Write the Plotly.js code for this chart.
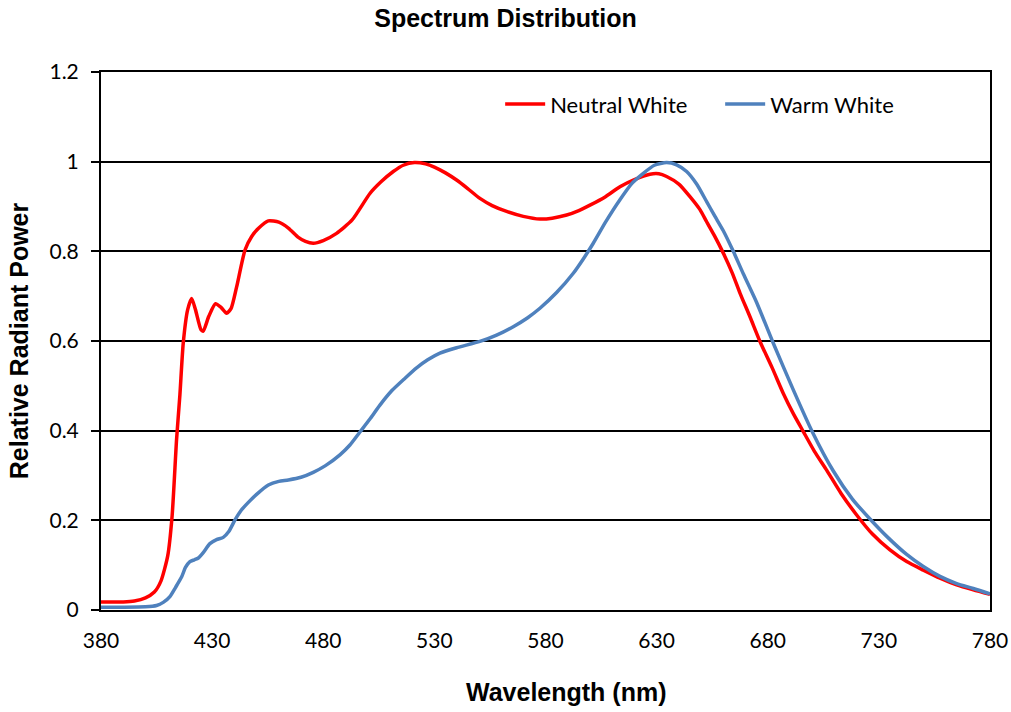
<!DOCTYPE html>
<html>
<head>
<meta charset="utf-8">
<script src="https://cdn.plot.ly/plotly-3.0.1.min.js"></script>
<style>html,body{margin:0;padding:0;background:#fff;}#chart{width:1011px;height:712px;}</style>
</head>
<body>
<div id="chart"></div>
<script>
// Wavelength samples (nm) and relative radiant power
const wavelengthNeutral = [380,390,395,400,404,407,410,412,414,415.5,417,419,420.8,422.5,425,426,428.5,431.5,434,436.5,438.5,441,444.8,447.8,451,455.3,460,464.3,468.8,472,475.5,480,486,493,501,506,511.5,516,521,526,530,535,540,545,550.5,556,562.5,570,577.5,583,589.5,595,600,607,613.5,620,627,631,634.5,640,645,649.5,652.5,656,660,664,667.5,672,676.5,682,687,691.5,696,701,706.5,713,720,727,735,742.5,750,757.5,765,772.5,780];
const neutralWhite = [0.018,0.018,0.020,0.027,0.040,0.065,0.12,0.21,0.38,0.48,0.595,0.67,0.695,0.67,0.625,0.622,0.655,0.683,0.675,0.662,0.672,0.72,0.803,0.833,0.852,0.868,0.865,0.852,0.831,0.822,0.818,0.824,0.840,0.870,0.929,0.955,0.978,0.992,0.998,0.995,0.988,0.975,0.959,0.940,0.918,0.902,0.889,0.878,0.872,0.874,0.881,0.891,0.903,0.922,0.944,0.960,0.972,0.973,0.967,0.950,0.922,0.893,0.866,0.835,0.796,0.752,0.707,0.654,0.599,0.54,0.483,0.438,0.398,0.354,0.312,0.26,0.212,0.170,0.134,0.108,0.089,0.071,0.056,0.045,0.035];

const wavelengthWarm = [380,390,400,405,408,411,413.5,416.3,418,420,422,423.8,426,429,432,435,437.5,440.3,443,446.3,450,455.3,460,464.3,470,475.5,481,487.5,492,496.5,501,505.5,511,516.8,522,527,532.5,540,550.5,558,565.5,572,577.5,585,592.5,597,601.5,607,613.5,619,624,629,634.5,639,643.5,648,652.5,656,660,664.5,669,675,682.5,691.5,699.8,709.5,718,726,734,742.5,750,757.5,765,772.5,780];
const warmWhite = [0.006,0.006,0.007,0.010,0.017,0.030,0.050,0.074,0.095,0.108,0.112,0.116,0.128,0.148,0.157,0.162,0.175,0.201,0.222,0.240,0.258,0.279,0.287,0.290,0.296,0.307,0.322,0.346,0.368,0.397,0.426,0.457,0.490,0.517,0.540,0.558,0.573,0.585,0.599,0.613,0.632,0.652,0.673,0.708,0.751,0.783,0.818,0.865,0.915,0.952,0.974,0.992,0.998,0.993,0.978,0.950,0.911,0.880,0.846,0.800,0.750,0.686,0.595,0.491,0.400,0.310,0.248,0.203,0.162,0.124,0.097,0.075,0.059,0.048,0.036];

const seriesNames = ["Neutral White", "Warm White"];
const xTicks = [380,430,480,530,580,630,680,730,780];
const yTicks = [0,0.2,0.4,0.6,0.8,1,1.2];

const traces = [
  {x: wavelengthNeutral, y: neutralWhite, name: seriesNames[0], type: 'scatter', mode: 'lines',
   line: {color: '#FF0000', width: 3.5, shape: 'spline', smoothing: 0.6}},
  {x: wavelengthWarm, y: warmWhite, name: seriesNames[1], type: 'scatter', mode: 'lines',
   line: {color: '#4F81BD', width: 3.5, shape: 'spline', smoothing: 0.6}}
];

const tickFont = {family: 'Lato, "Liberation Sans", sans-serif', size: 21, color: '#000'};
const titleFont = {family: '"Liberation Sans", Arial, sans-serif', size: 25, color: '#000', weight: 'bold'};

const layout = {
  width: 1011, height: 712,
  margin: {l: 101, r: 21, t: 72, b: 102, autoexpand: false},
  paper_bgcolor: '#fff', plot_bgcolor: '#fff',
  showlegend: true,
  title: {text: 'Spectrum Distribution', font: titleFont,
          x: 0.5, xref: 'container', y: 0.974, yref: 'container', yanchor: 'middle'},
  xaxis: {range: [380, 780], tickvals: xTicks, ticktext: xTicks.map(String),
          showgrid: false, zeroline: false, showline: true, linecolor: '#000', linewidth: 2, mirror: true,
          ticks: '', tickfont: tickFont, ticklabelstandoff: 11, automargin: false},
  yaxis: {range: [0, 1.2], tickvals: yTicks, ticktext: yTicks.map(String),
          showgrid: true, gridcolor: '#000', gridwidth: 2, zeroline: false,
          showline: true, linecolor: '#000', linewidth: 2, mirror: true,
          ticks: 'outside', ticklen: 8, tickwidth: 2, tickcolor: '#000', tickfont: tickFont,
          ticklabelstandoff: 8, automargin: false,
          title: {text: 'Relative Radiant Power', font: titleFont, standoff: 14}},
  legend: {orientation: 'h', x: 0.449, xanchor: 'left', y: 0.94, yanchor: 'middle',
           font: {family: 'Lato, "Liberation Sans", sans-serif', size: 22, color: '#000'},
           bgcolor: 'rgba(0,0,0,0)', itemwidth: 40, entrywidth: 165, entrywidthmode: 'pixels'},
  annotations: [{text: 'Wavelength (nm)', xref: 'paper', yref: 'paper', x: 0.5235, y: -0.153,
                 xanchor: 'center', yanchor: 'middle', showarrow: false, font: titleFont}]
};

Plotly.newPlot('chart', traces, layout, {displayModeBar: false, staticPlot: true});
</script>
</body>
</html>
